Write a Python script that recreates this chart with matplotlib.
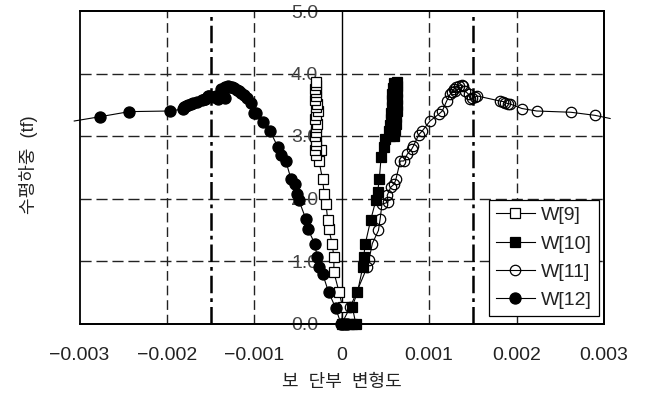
import numpy as np
import matplotlib
matplotlib.use('Agg')
import matplotlib.pyplot as plt
from matplotlib.patches import Rectangle

plt.rcParams['font.family'] = ['Liberation Sans', 'Noto Sans CJK KR', 'DejaVu Sans']

# W[9] open squares
w9_x = [0.0, 0.00001, -0.00003, -0.00009, -0.00009, -0.00011, -0.00015, -0.00016,
        -0.00018, -0.00020, -0.00022, -0.00026, -0.00024, -0.00030, -0.00031, -0.00029,
        -0.00030, -0.00031, -0.00029, -0.00030, -0.00028, -0.00031, -0.00029, -0.00027,
        -0.00030, -0.00028, -0.00031, -0.00029, -0.00030, -0.00031, -0.00029, -0.00030]
w9_y = [0.0, 0.26, 0.50, 0.82, 1.06, 1.28, 1.52, 1.65,
        1.91, 2.07, 2.31, 2.60, 2.77, 2.70, 2.78, 2.85,
        2.92, 3.00, 3.07, 3.14, 3.20, 3.27, 3.33, 3.40,
        3.46, 3.52, 3.58, 3.64, 3.70, 3.76, 3.82, 3.86]

# W[10] filled squares
w10_x = [0.00003, 0.00008, 0.00012, 0.00016, 0.00012, 0.00018, 0.00024, 0.00025,
         0.00027, 0.00033, 0.00039, 0.00041, 0.00043, 0.00045, 0.00048, 0.00050,
         0.00055, 0.00060, 0.00054, 0.00061, 0.00055, 0.00062, 0.00056, 0.00062,
         0.00056, 0.00063, 0.00057, 0.00063, 0.00057, 0.00063, 0.00058, 0.00063,
         0.00059, 0.00063, 0.00060, 0.00063]
w10_y = [0.0, 0.0, 0.0, 0.0, 0.27, 0.50, 0.90, 1.06,
         1.28, 1.65, 1.97, 2.10, 2.31, 2.66, 2.82, 2.95,
         3.00, 3.00, 3.08, 3.10, 3.18, 3.20, 3.27, 3.30,
         3.37, 3.40, 3.47, 3.50, 3.57, 3.60, 3.67, 3.70,
         3.77, 3.80, 3.85, 3.86]

# W[11] open circles
w11_x = [0.0, 0.00010, 0.00029, 0.00031, 0.00035, 0.00042, 0.00044, 0.00046,
         0.00053, 0.00052, 0.00056, 0.00060, 0.00062, 0.00067, 0.00071, 0.00075,
         0.00080, 0.00082, 0.00088, 0.00092, 0.00101, 0.00111, 0.00115, 0.00120,
         0.00124, 0.00128, 0.00131, 0.00134, 0.00137, 0.00139, 0.00130, 0.00126,
         0.00141, 0.00145, 0.00147, 0.00149, 0.00152, 0.00155, 0.00181, 0.00185,
         0.00187, 0.00190, 0.00193, 0.00206, 0.00223, 0.00262, 0.00290, 0.00307]
w11_y = [0.0, 0.27, 0.90, 1.01, 1.28, 1.49, 1.68, 1.91,
         1.94, 2.05, 2.18, 2.23, 2.31, 2.60, 2.60, 2.71,
         2.79, 2.84, 3.02, 3.08, 3.24, 3.35, 3.40, 3.56,
         3.67, 3.75, 3.78, 3.80, 3.82, 3.80, 3.72, 3.70,
         3.72, 3.67, 3.59, 3.61, 3.62, 3.64, 3.56, 3.55,
         3.53, 3.52, 3.51, 3.44, 3.40, 3.38, 3.33, 3.28]

# W[12] filled circles
w12_x = [0.00006, 0.00003, -0.00001, -0.00007, -0.00015, -0.00022, -0.00026, -0.00028,
         -0.00031, -0.00039, -0.00041, -0.00049, -0.00051, -0.00054, -0.00058, -0.00064,
         -0.00070, -0.00073, -0.00082, -0.00090, -0.00098, -0.00100, -0.00104, -0.00108,
         -0.00112, -0.00115, -0.00118, -0.00120, -0.00123, -0.00126, -0.00128, -0.00130,
         -0.00133, -0.00136, -0.00138, -0.00134, -0.00141, -0.00144, -0.00146, -0.00152,
         -0.00153, -0.00156, -0.00157, -0.00160, -0.00166, -0.00170, -0.00172, -0.00176,
         -0.00178, -0.00180, -0.00182, -0.00197, -0.00243, -0.00276, -0.00306]
w12_y = [0.0, 0.0, 0.0, 0.25, 0.50, 0.80, 0.90, 1.06,
         1.28, 1.52, 1.67, 1.97, 2.07, 2.23, 2.31, 2.60,
         2.70, 2.82, 3.08, 3.23, 3.37, 3.37, 3.53, 3.61,
         3.66, 3.69, 3.72, 3.74, 3.77, 3.78, 3.79, 3.80,
         3.78, 3.70, 3.75, 3.61, 3.60, 3.64, 3.62, 3.64,
         3.64, 3.60, 3.59, 3.57, 3.54, 3.53, 3.52, 3.50,
         3.48, 3.46, 3.43, 3.40, 3.39, 3.31, 3.24]

x_ticks = [-0.003, -0.002, -0.001, 0, 0.001, 0.002, 0.003]
x_labels = ['\u22120.003', '\u22120.002', '\u22120.001', '0', '0.001', '0.002', '0.003']
y_ticks = [0, 1, 2, 3, 4, 5]
y_labels = ['0.0', '1.0', '2.0', '3.0', '4.0', '5.0']
limit_lines = [-0.0015, 0.0015]

fig = plt.figure(figsize=(6.47, 3.96), dpi=100)
ax = fig.add_axes([79.5 / 647, 1 - 323.5 / 396, (604 - 79.5) / 647, (323.5 - 11) / 396])

ax.set_xlim(-0.003, 0.003)
ax.set_ylim(0, 5)

# grid
for gx in [-0.002, -0.001, 0.001, 0.002]:
    ax.axvline(gx, color='#222222', lw=1.0, ls=(0, (7, 3.5)), zorder=1)
for gy in [1, 2, 3, 4]:
    ax.axhline(gy, color='#222222', lw=1.0, ls=(0, (8, 3.5)), zorder=1)
for lx in limit_lines:
    ax.axvline(lx, color='black', lw=1.8, ls=(0, (7, 2, 1.5, 2)), zorder=1)

line_kw = dict(color='black', lw=0.8, clip_on=False, zorder=3)
ax.plot(w9_x, w9_y, marker='s', ms=6.5, mfc='white', mec='black', mew=0.9, label='W[9]', **line_kw)
ax.plot(w10_x, w10_y, marker='s', ms=6.5, mfc='black', mec='black', mew=0.9, label='W[10]', **line_kw)
ax.plot(w11_x, w11_y, marker='o', ms=7.5, mfc='none', mec='black', mew=0.9,
        markevery=slice(0, len(w11_x) - 1), label='W[11]', **line_kw)
ax.plot(w12_x, w12_y, marker='o', ms=8, mfc='black', mec='black', mew=0.9,
        markevery=slice(0, len(w12_x) - 1), label='W[12]', **line_kw)

# axes frame: y axis sits at x = 0
ax.spines['left'].set_position(('data', 0))
ax.spines['left'].set_linewidth(1.0)
for s in ['top', 'right', 'bottom']:
    ax.spines[s].set_linewidth(1.3)
ax.add_patch(Rectangle((0, 0), 1, 1, transform=ax.transAxes, fill=False,
                       lw=1.3, edgecolor='black', zorder=5, clip_on=False))

ax.set_xticks(x_ticks)
ax.set_xticklabels(x_labels)
ax.set_yticks(y_ticks)
ax.set_yticklabels(y_labels)
ax.tick_params(axis='x', length=0, pad=17, labelsize=14, labelcolor='#222222')
ax.tick_params(axis='y', length=0, pad=17, labelsize=14, labelcolor='#444444')
for t in ax.get_yticklabels():
    t.set_zorder(0)

ax.set_xlabel('보  단부  변형도', fontsize=13, labelpad=7, color='#222222')
fig.text(28 / 647, 1 - 165 / 396, '수평하중  (tf)', rotation=90, ha='center', va='center',
         fontsize=13, color='#222222')

leg = ax.legend(loc='lower right', bbox_to_anchor=(1 - 5 / 524.5, 7.5 / 312.5),
                borderaxespad=0, fancybox=False, framealpha=1, edgecolor='black',
                fontsize=14, handlelength=2.0, handletextpad=0.35, labelspacing=0.55,
                borderpad=0.35)
leg.get_frame().set_linewidth(0.9)
for t in leg.get_texts():
    t.set_color('#222222')

fig.savefig('out.png', dpi=100)
